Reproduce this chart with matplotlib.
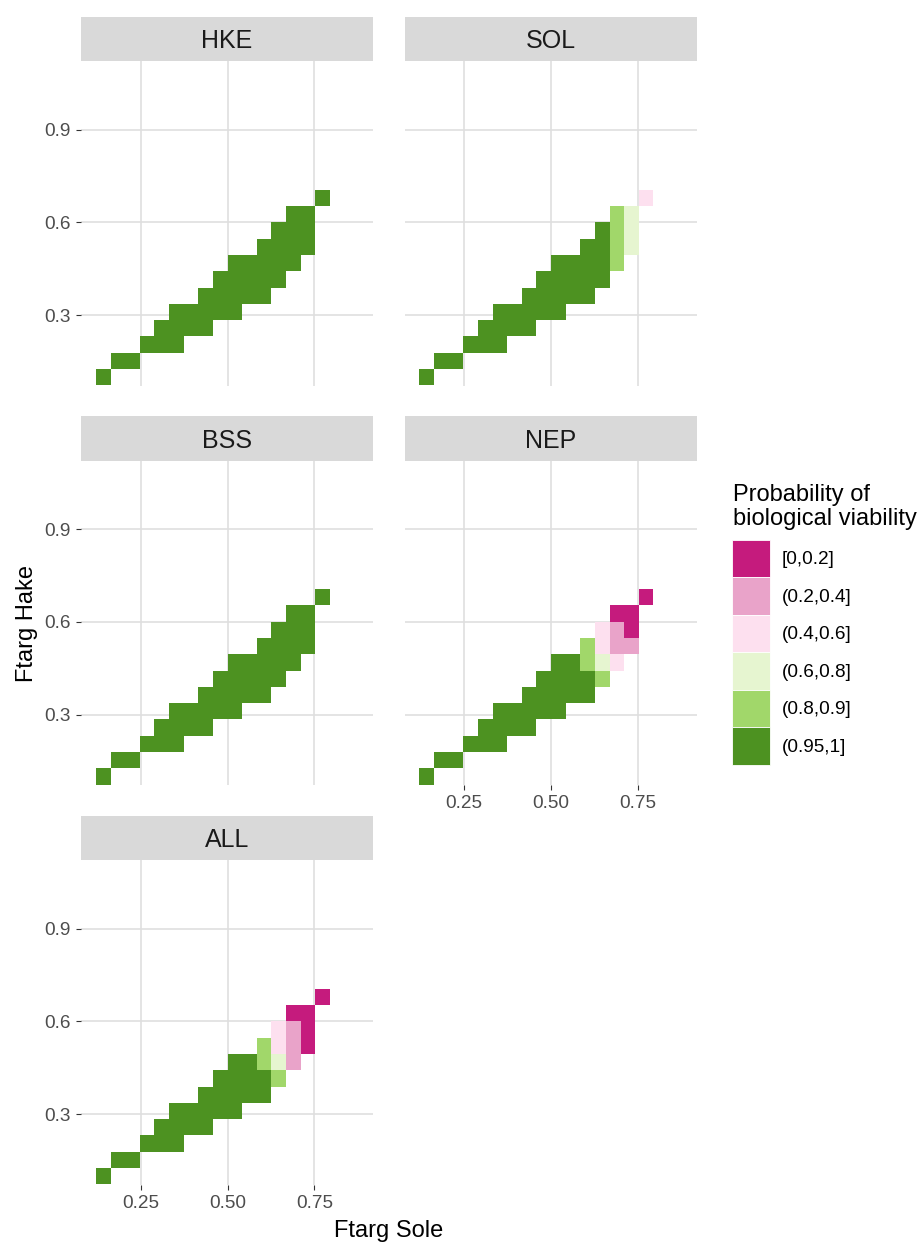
import matplotlib
matplotlib.use("Agg")
import matplotlib.pyplot as plt
import numpy as np
from matplotlib.colors import ListedColormap, BoundaryNorm
from matplotlib.patches import Patch

plt.rcParams['font.family'] = ['Liberation Sans', 'DejaVu Sans']

# grid of target F values (tile centres)
ftarg_sole = [0.142, 0.184, 0.226, 0.268, 0.311, 0.353, 0.395, 0.437,
              0.479, 0.521, 0.563, 0.605, 0.647, 0.690, 0.732, 0.774]
ftarg_hake = [0.100, 0.153, 0.205, 0.258, 0.311, 0.363,
              0.416, 0.469, 0.521, 0.574, 0.627, 0.680]

classes = ['[0,0.2]', '(0.2,0.4]', '(0.4,0.6]', '(0.6,0.8]', '(0.8,0.9]', '(0.95,1]']
class_colors = ['#C51B7D', '#E9A3C9', '#FDE0EF', '#E6F5D0', '#A1D76A', '#4D9221']

# one string per Ftarg Hake row, highest row first; '.' = no tile, digit = class index
grid_hke = ["...............5",
            ".............55.",
            "............555.",
            "...........5555.",
            ".........55555..",
            "........55555...",
            ".......55555....",
            ".....55555......",
            "....5555........",
            "...555..........",
            ".55.............",
            "5..............."]
grid_sol = ["...............2",
            ".............43.",
            "............543.",
            "...........5543.",
            ".........55554..",
            "........55555...",
            ".......55555....",
            ".....55555......",
            "....5555........",
            "...555..........",
            ".55.............",
            "5..............."]
grid_bss = list(grid_hke)
grid_nep = ["...............0",
            ".............00.",
            "............210.",
            "...........4211.",
            ".........55432..",
            "........55554...",
            ".......55555....",
            ".....55555......",
            "....5555........",
            "...555..........",
            ".55.............",
            "5..............."]
grid_all = ["...............0",
            ".............00.",
            "............210.",
            "...........4210.",
            ".........55431..",
            "........55554...",
            ".......55555....",
            ".....55555......",
            "....5555........",
            "...555..........",
            ".55.............",
            "5..............."]

panel_names = ['HKE', 'SOL', 'BSS', 'NEP', 'ALL']
panel_grids = [grid_hke, grid_sol, grid_bss, grid_nep, grid_all]

x_ticks = [0.25, 0.50, 0.75]
x_tick_labels = ['0.25', '0.50', '0.75']
y_ticks = [0.3, 0.6, 0.9]
y_tick_labels = ['0.3', '0.6', '0.9']


def edges(c):
    c = np.asarray(c, dtype=float)
    mid = (c[1:] + c[:-1]) / 2
    return np.concatenate([[2 * c[0] - mid[0]], mid, [2 * c[-1] - mid[-1]]])


def to_array(grid):
    rows = [[np.nan if ch == '.' else float(ch) for ch in line] for line in grid[::-1]]
    return np.ma.masked_invalid(np.array(rows))


W, H = 918, 1242
fig = plt.figure(figsize=(W / 100, H / 100), dpi=100)


def box(left, top, w, h):
    return [left / W, 1 - (top + h) / H, w / W, h / H]


col_left = [81, 404.5]
row_top = [61, 460.5, 860]
panel_w, panel_h, strip_h = 292, 324.5, 44
layout = [(0, 0), (0, 1), (1, 0), (1, 1), (2, 0)]
bottom_panels = ['NEP', 'ALL']

cmap = ListedColormap(class_colors)
norm = BoundaryNorm(np.arange(-0.5, 6.5, 1), cmap.N)
xe, ye = edges(ftarg_sole), edges(ftarg_hake)

for name, grid, (r, c) in zip(panel_names, panel_grids, layout):
    ax = fig.add_axes(box(col_left[c], row_top[r], panel_w, panel_h))
    ax.pcolormesh(xe, ye, to_array(grid), cmap=cmap, norm=norm,
                  edgecolors='none', antialiased=False, zorder=2)
    ax.set_xlim(0.078, 0.919)
    ax.set_ylim(0.0724, 1.1225)
    for s in ax.spines.values():
        s.set_visible(False)
    ax.set_xticks(x_ticks)
    ax.set_yticks(y_ticks)
    ax.grid(True, color='#DEDEDE', linewidth=1.15)
    ax.set_axisbelow(True)
    ax.tick_params(axis='both', colors='#333333', labelcolor='#4D4D4D',
                   length=3.6, width=0.8, labelsize=13.7, pad=3.8)
    if c == 0:
        ax.set_yticklabels(y_tick_labels)
    else:
        ax.tick_params(axis='y', length=0, labelleft=False)
    if name in bottom_panels:
        ax.set_xticklabels(x_tick_labels)
    else:
        ax.tick_params(axis='x', length=0, labelbottom=False)

    sax = fig.add_axes(box(col_left[c], row_top[r] - strip_h, panel_w, strip_h))
    sax.set_facecolor('#D9D9D9')
    sax.set_xticks([])
    sax.set_yticks([])
    for s in sax.spines.values():
        s.set_visible(False)
    sax.text(0.5, (strip_h - 31.3) / strip_h, name, ha='center', va='baseline',
             fontsize=18, color='#1A1A1A', transform=sax.transAxes)

fig.text(389 / W, 1 - 1237.3 / H, 'Ftarg Sole', ha='center', va='baseline', fontsize=17)
fig.text(33 / W, 1 - 624 / H, 'Ftarg Hake', ha='center', va='baseline', rotation=90,
         rotation_mode='anchor', fontsize=17)

# legend
fig.text(733 / W, 1 - 484.5 / H, 'Probability of\nbiological viability', ha='left', va='top',
         fontsize=17, linespacing=1.1)
handles = [Patch(facecolor=col, edgecolor='white', linewidth=0.6) for col in class_colors]
fig.legend(handles, classes, loc='upper left', bbox_to_anchor=(732 / W, 1 - 540 / H),
           frameon=False, borderpad=0, borderaxespad=0, labelspacing=0,
           handlelength=2.0, handleheight=2.655, handletextpad=0.63, fontsize=13.7)

fig.savefig('out.png', dpi=100)
